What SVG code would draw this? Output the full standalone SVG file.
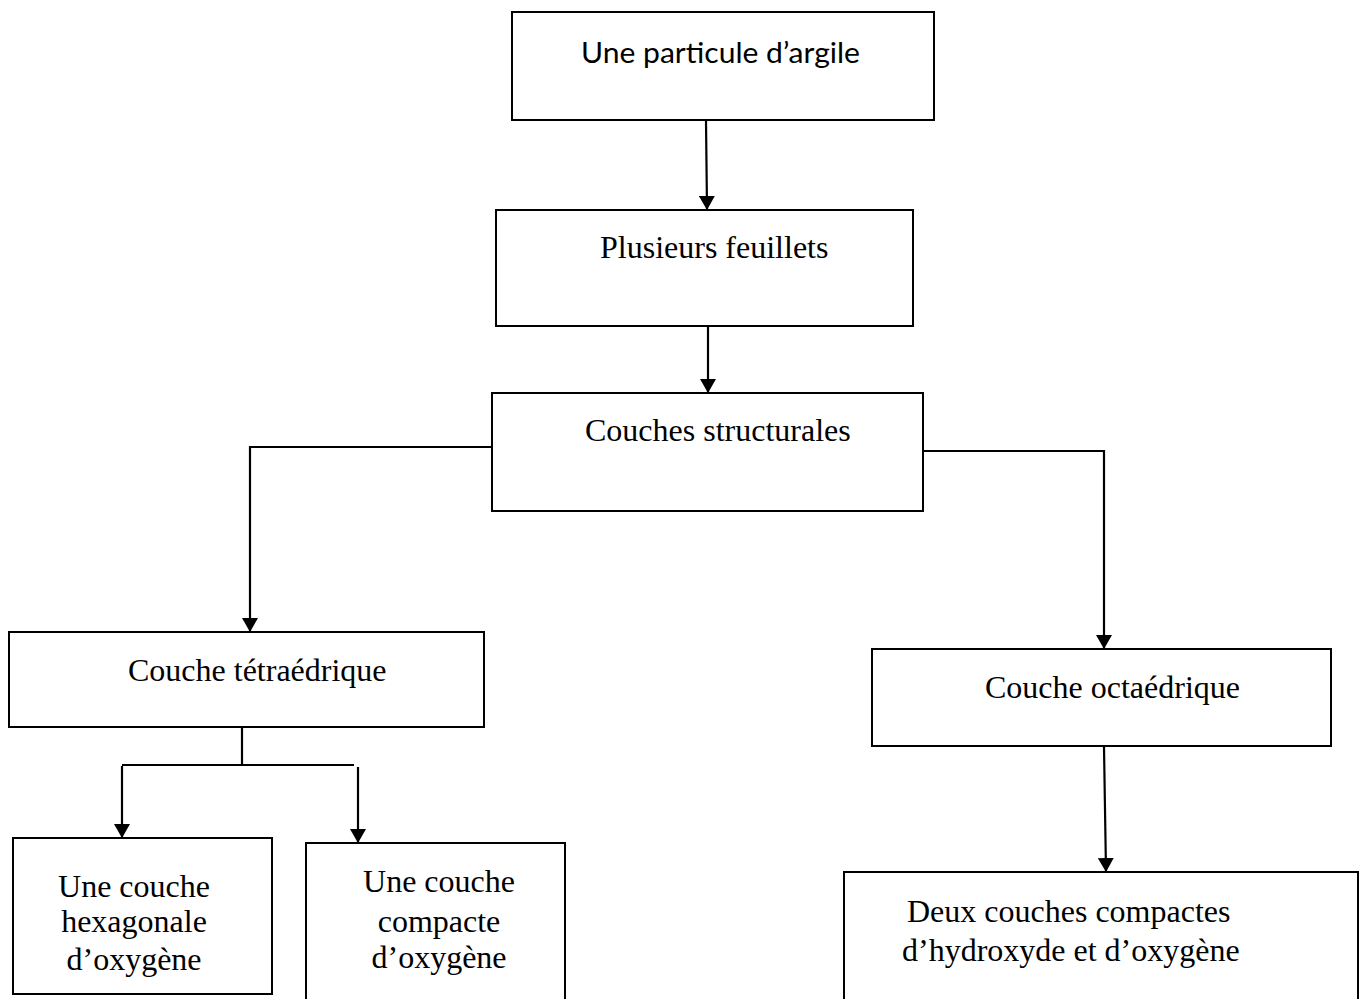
<svg xmlns="http://www.w3.org/2000/svg" width="1365" height="999" viewBox="0 0 1365 999">
  <style>
    .box { fill: #ffffff; stroke: #000000; stroke-width: 2; }
    .con { fill: none; stroke: #000000; stroke-width: 2.2; }
    .serif { font-family: "Liberation Serif", "Times New Roman", serif; font-size: 32px; fill: #000000; }
    .sans { font-family: Lato, "Open Sans", "Liberation Sans", sans-serif; font-size: 28px; fill: #000000; }
    .mid { text-anchor: middle; }
  </style>
  <defs>
    <marker id="arr" viewBox="0 0 14 16" refX="13" refY="8" markerWidth="14" markerHeight="16" markerUnits="userSpaceOnUse" orient="auto">
      <path d="M0,0 L14,8 L0,16 Z" fill="#000000"/>
    </marker>
  </defs>
  <rect width="1365" height="999" fill="#ffffff"/>

  <g id="connectors">
    <line class="con" x1="706" y1="121" x2="707" y2="209" marker-end="url(#arr)"/>
    <line class="con" x1="708" y1="327" x2="708" y2="392" marker-end="url(#arr)"/>
    <polyline class="con" points="492,447 250,447 250,631" marker-end="url(#arr)"/>
    <polyline class="con" points="923,451 1104,451 1104,648" marker-end="url(#arr)"/>
    <line class="con" x1="1104" y1="747" x2="1106" y2="871" marker-end="url(#arr)"/>
    <line class="con" x1="242" y1="728" x2="242" y2="765"/>
    <line class="con" x1="122" y1="765" x2="354" y2="765"/>
    <line class="con" x1="122" y1="766" x2="122" y2="837" marker-end="url(#arr)"/>
    <line class="con" x1="358" y1="767" x2="358" y2="842" marker-end="url(#arr)"/>
  </g>

  <g id="particule">
    <rect class="box" x="512" y="12" width="422" height="108"/>
    <text class="sans" x="581" y="63" textLength="279" lengthAdjust="spacingAndGlyphs">Une particule d’argile</text>
  </g>
  <g id="feuillets">
    <rect class="box" x="496" y="210" width="417" height="116"/>
    <text class="serif" x="600" y="258">Plusieurs feuillets</text>
  </g>
  <g id="structurales">
    <rect class="box" x="492" y="393" width="431" height="118"/>
    <text class="serif" x="585" y="441">Couches structurales</text>
  </g>
  <g id="tetraedrique">
    <rect class="box" x="9" y="632" width="475" height="95"/>
    <text class="serif" x="128" y="681">Couche tétraédrique</text>
  </g>
  <g id="octaedrique">
    <rect class="box" x="872" y="649" width="459" height="97"/>
    <text class="serif" x="985" y="698">Couche octaédrique</text>
  </g>
  <g id="hexagonale">
    <rect class="box" x="13" y="838" width="259" height="156"/>
    <text class="serif mid" x="134" y="897">Une couche</text>
    <text class="serif mid" x="134" y="932">hexagonale</text>
    <text class="serif mid" x="134" y="970">d’oxygène</text>
  </g>
  <g id="compacte">
    <rect class="box" x="306" y="843" width="259" height="170"/>
    <text class="serif mid" x="439" y="892">Une couche</text>
    <text class="serif mid" x="439" y="932">compacte</text>
    <text class="serif mid" x="439" y="968">d’oxygène</text>
  </g>
  <g id="deux-couches">
    <rect class="box" x="844" y="872" width="514" height="140"/>
    <text class="serif" x="907" y="922">Deux couches compactes</text>
    <text class="serif" x="902" y="961">d’hydroxyde et d’oxygène</text>
  </g>
</svg>
